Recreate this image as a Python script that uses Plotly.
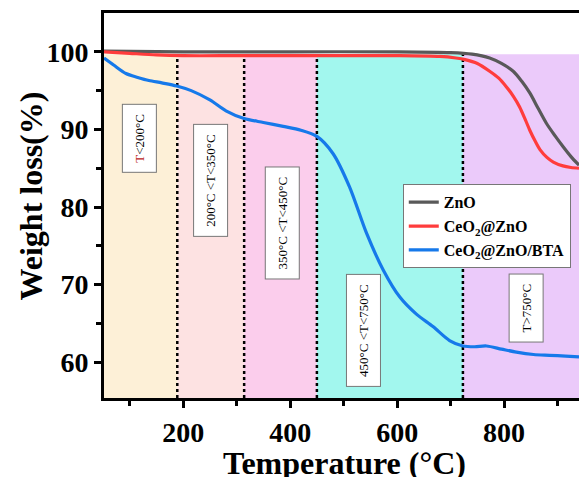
import plotly.graph_objects as go

# ---- data ----
temp_bta = [52, 70, 93, 115, 136, 160, 188, 215, 250, 280, 314, 350, 387, 420, 450, 480, 511, 543,
            574, 605, 636, 667, 698, 723, 745, 767, 795, 823, 855, 885, 915, 940]
wt_bta = [99.2, 98.3, 97.2, 96.7, 96.3, 96.0, 95.6, 95.0, 93.8, 92.4, 91.4, 90.9, 90.4, 89.9, 89.1,
          86.9, 82.6, 76.6, 71.9, 68.4, 66.2, 64.6, 62.8, 62.1, 62.0, 62.1, 61.7, 61.3, 61.0, 60.9,
          60.8, 60.7]

temp_ceo2 = [52, 100, 150, 200, 300, 400, 500, 600, 680, 710, 727, 750, 773, 790, 804, 817, 829,
             840, 848, 858, 867, 880, 892, 910, 925, 940]
wt_ceo2 = [100.0, 99.8, 99.6, 99.5, 99.5, 99.5, 99.5, 99.5, 99.4, 99.2, 99.0, 98.5, 97.5, 96.6,
           95.5, 94.3, 92.9, 91.2, 89.9, 88.5, 87.4, 86.4, 85.8, 85.3, 85.1, 85.0]

temp_zno = [52, 200, 400, 600, 700, 740, 773, 795, 817, 833, 848, 863, 879, 895, 910, 925, 940]
wt_zno = [100.1, 100.0, 100.0, 100.0, 99.9, 99.7, 99.2, 98.5, 97.5, 96.2, 94.7, 92.8, 90.8, 89.2,
          87.8, 86.5, 85.4]

series_names = ["ZnO", "CeO<sub>2</sub>@ZnO", "CeO<sub>2</sub>@ZnO/BTA"]

region_edges = [52, 189, 314, 450, 723, 940]
region_labels = ["<span style='color:#b22'>T</span>&lt;200°C", "200°C &lt;T&lt;350°C",
                 "350°C &lt;T&lt;450°C", "450°C &lt;T&lt;750°C", "T&gt;750°C"]
label_x = [119, 252, 385, 537, 842]
label_y = [88.9, 83.5, 77.9, 64.1, 67.0]
region_top = 99.7

x_range = [52, 940]
y_range = [55.4, 105]

# ---- styles ----
region_colors = ["#fdf0d7", "#fde2e2", "#fbcdec", "#a2f7ee", "#ebcafa"]
line_colors = ["#595959", "#ff3c3c", "#1679ea"]
serif = "Liberation Serif"

fig = go.Figure()
for name, xs, ys, c in zip(series_names, [temp_zno, temp_ceo2, temp_bta],
                           [wt_zno, wt_ceo2, wt_bta], line_colors):
    fig.add_trace(go.Scatter(x=xs, y=ys, mode="lines", name=name,
                             line=dict(color=c, width=3.2, shape="spline", smoothing=0.8)))

shapes = []
for i, col in enumerate(region_colors):
    shapes.append(dict(type="rect", xref="x", yref="y", x0=region_edges[i], x1=region_edges[i + 1],
                       y0=y_range[0], y1=region_top, fillcolor=col, line=dict(width=0),
                       layer="below"))
for xe in region_edges[1:-1]:
    shapes.append(dict(type="line", xref="x", yref="y", x0=xe, x1=xe, y0=y_range[0], y1=region_top,
                       line=dict(color="black", width=2.5, dash="dot"), layer="below"))

annotations = []
for t, lx, ly in zip(region_labels, label_x, label_y):
    annotations.append(dict(x=lx, y=ly, xref="x", yref="y", text=t, textangle=-90,
                            showarrow=False, font=dict(family=serif, size=13, color="black"),
                            bgcolor="white", bordercolor="#777", borderwidth=1, borderpad=9))
annotations.append(dict(x=-0.1537, y=0.526, xref="paper", yref="paper", text="Weight loss(%)",
                        textangle=-90, showarrow=False, xanchor="center", yanchor="middle",
                        font=dict(family=serif, size=32, color="black", weight="bold")))
annotations.append(dict(x=0.507, y=-0.169, xref="paper", yref="paper", text="Temperature (°C)",
                        showarrow=False, xanchor="center", yanchor="middle",
                        font=dict(family=serif, size=32, color="black", weight="bold")))

fig.update_layout(
    width=579, height=477,
    margin=dict(l=104, r=0, t=13, b=79, autoexpand=False),
    paper_bgcolor="white", plot_bgcolor="white",
    shapes=shapes, annotations=annotations,
    showlegend=True,
    legend=dict(x=0.629, y=0.555, xanchor="left", yanchor="top",
                bgcolor="white", bordercolor="#777", borderwidth=1,
                font=dict(family=serif, size=16, color="black", weight="bold"),
                tracegroupgap=0, itemwidth=30),
    xaxis=dict(range=x_range, showline=True, linewidth=3, linecolor="black", mirror=True,
               ticks="outside", ticklen=7, tickwidth=2.5, tickcolor="black",
               tickvals=[200, 400, 600, 800],
               minor=dict(tickvals=[100, 300, 500, 700, 900], ticks="outside", ticklen=5,
                          tickwidth=2.5, tickcolor="black"),
               showgrid=False, zeroline=False,
               tickfont=dict(family=serif, size=28, color="black", weight="bold")),
    yaxis=dict(range=y_range, showline=True, linewidth=3, linecolor="black",
               ticks="outside", ticklen=7, tickwidth=2.5, tickcolor="black",
               tickvals=[60, 70, 80, 90, 100],
               minor=dict(tickvals=[65, 75, 85, 95], ticks="outside", ticklen=5,
                          tickwidth=2.5, tickcolor="black"),
               showgrid=False, zeroline=False,
               tickfont=dict(family=serif, size=28, color="black", weight="bold")),
)

fig.write_html("out.html", config={"displayModeBar": False},
               post_script="document.body.style.margin='0';document.body.style.overflow='hidden';")
